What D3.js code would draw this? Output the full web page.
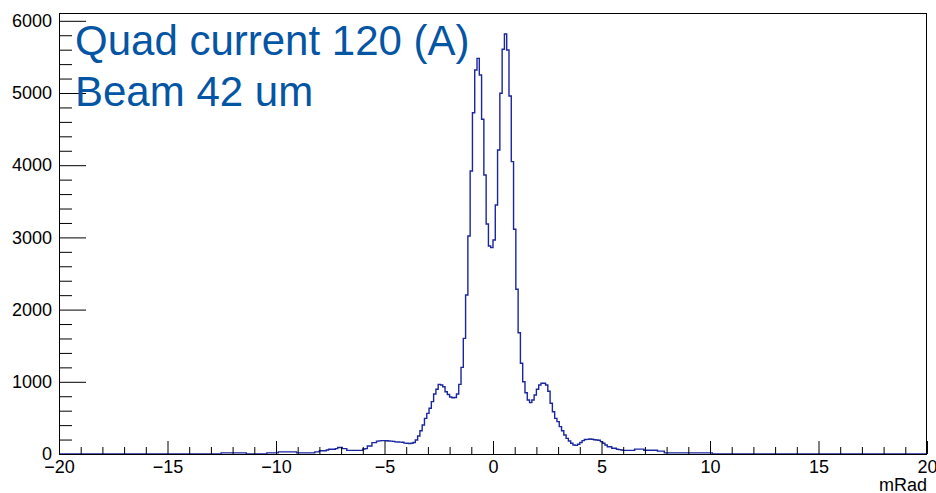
<!DOCTYPE html>
<html>
<head>
<meta charset="utf-8">
<script src="https://cdn.jsdelivr.net/npm/d3@7"></script>
<style>
  body { margin: 0; background: #fff; }
  svg { display: block; font-family: "Liberation Sans", Arial, sans-serif; }
</style>
</head>
<body>
<svg id="chart" width="936" height="493"></svg>
<script>
// histogram: 380 bins from -20 to 20 mRad, counts start at bin 71
const xMin = -20, xMax = 20, nBins = 380
const firstBin = 71
const counts = [
  15, 15, 15, 15, 15, 15, 15, 15, 15, 15, 15,
  0, 0, 0, 0, 0, 0, 0, 0, 0,
  15, 15, 15, 15, 15,
  30, 30, 30, 30, 30, 30, 30, 30,
  15, 15, 15, 15, 15, 15, 15, 15,
  30, 30, 45, 45, 45, 55, 65, 65, 65, 75, 90, 90, 75, 75,
  50, 50, 50, 50, 50, 50, 50, 70, 75, 110, 110, 157, 157,
  178, 182, 185, 185, 183, 180, 178, 175,
  168, 166, 164, 162, 150, 148, 146, 148, 160,
  194, 249, 323, 402, 494, 563, 633, 725, 831, 896,
  965, 955, 932, 863, 825, 790, 780, 782, 831, 965,
  1200, 1602, 2202, 3019, 3920, 4727, 5319, 5480, 5249, 4636,
  3864, 3186, 2880, 2858, 2964, 3449, 4211, 4996, 5605, 5817,
  5596, 4958, 4049, 3112, 2281, 1680, 1256, 1001, 849, 748,
  711, 748, 817, 896, 955, 979, 980, 955, 870, 702,
  586, 494, 448, 379, 323, 263, 217, 180, 148, 125,
  120, 135, 160, 185, 200, 203, 208, 205, 198, 194,
  190, 171, 148, 125, 101, 101, 79, 79, 65, 60,
  55, 50, 50, 50, 50, 50, 68, 68, 68, 68,
  52, 52, 52, 52, 52, 52, 40, 40, 40,
  15, 15, 15, 15, 15, 15, 15, 15, 15, 15,
  15, 15, 15, 15, 15, 15, 15, 15, 15, 15, 15
]
const yMax = 6108
const xTicks = [-20, -15, -10, -5, 0, 5, 10, 15, 20]
const yTicks = [0, 1000, 2000, 3000, 4000, 5000, 6000]
const titleLines = ['Quad current 120 (A)', 'Beam 42 um']
const xTitle = 'mRad'

const svg = d3.select('#chart')
const frame = { left: 59, right: 927, top: 13, bottom: 454 }

const x = d3.scaleLinear().domain([xMin, xMax]).range([frame.left, frame.right])
const y = d3.scaleLinear().domain([0, yMax]).range([frame.bottom, frame.top])

// full bin list, zero outside the filled range
const binW = (xMax - xMin) / nBins
const bins = d3.range(nBins).map((i) => {
    const j = i - firstBin
    return { x0: xMin + i * binW, v: j >= 0 && j < counts.length ? counts[j] : 0 }
})
bins.push({ x0: xMax, v: bins[bins.length - 1].v })

const line = d3.line()
    .x((d) => x(d.x0))
    .y((d) => y(d.v))
    .curve(d3.curveStepAfter)

svg.append('path')
    .datum(bins)
    .attr('fill', 'none')
    .attr('stroke', '#1a26a0')
    .attr('stroke-width', 1.4)
    .attr('d', line)

// axes, ROOT style ticks inside the frame
const fontSize = 18
const minorX = d3.range(xMin, xMax + 0.001, 1).filter((v) => v % 5 !== 0)
const minorY = d3.range(0, yMax, 200).filter((v) => v % 1000 !== 0)

const gx = svg.append('g').attr('transform', `translate(0,${frame.bottom})`)
gx.call(d3.axisBottom(x).tickValues(xTicks).tickSizeInner(-13).tickSizeOuter(0).tickPadding(6).tickFormat(d3.format('d')))
gx.append('g').call(d3.axisBottom(x).tickValues(minorX).tickSizeInner(-7).tickSizeOuter(0).tickFormat(''))

const gy = svg.append('g').attr('transform', `translate(${frame.left},0)`)
gy.call(d3.axisLeft(y).tickValues(yTicks).tickSizeInner(-27).tickSizeOuter(0).tickPadding(7).tickFormat(d3.format('d')))
gy.append('g').call(d3.axisLeft(y).tickValues(minorY).tickSizeInner(-13).tickSizeOuter(0).tickFormat(''))

svg.selectAll('.domain').remove()
svg.selectAll('.tick line').attr('stroke', '#000').attr('stroke-width', 1)
svg.selectAll('.tick text')
    .attr('font-size', fontSize)
    .attr('font-family', '"Liberation Sans", Arial, sans-serif')
    .attr('fill', '#000')

// frame
svg.append('rect')
    .attr('x', frame.left + 0.5)
    .attr('y', frame.top + 0.5)
    .attr('width', frame.right - frame.left - 1)
    .attr('height', frame.bottom - frame.top)
    .attr('fill', 'none')
    .attr('stroke', '#000')
    .attr('stroke-width', 1)

svg.append('text')
    .attr('x', frame.right)
    .attr('y', 491)
    .attr('text-anchor', 'end')
    .attr('font-size', fontSize)
    .text(xTitle)

svg.append('g')
    .selectAll('text')
    .data(titleLines)
    .join('text')
    .attr('x', 75)
    .attr('y', (d, i) => 55 + i * 51)
    .attr('font-size', 42)
    .attr('fill', '#0455a4')
    .text((d) => d)
</script>
</body>
</html>
